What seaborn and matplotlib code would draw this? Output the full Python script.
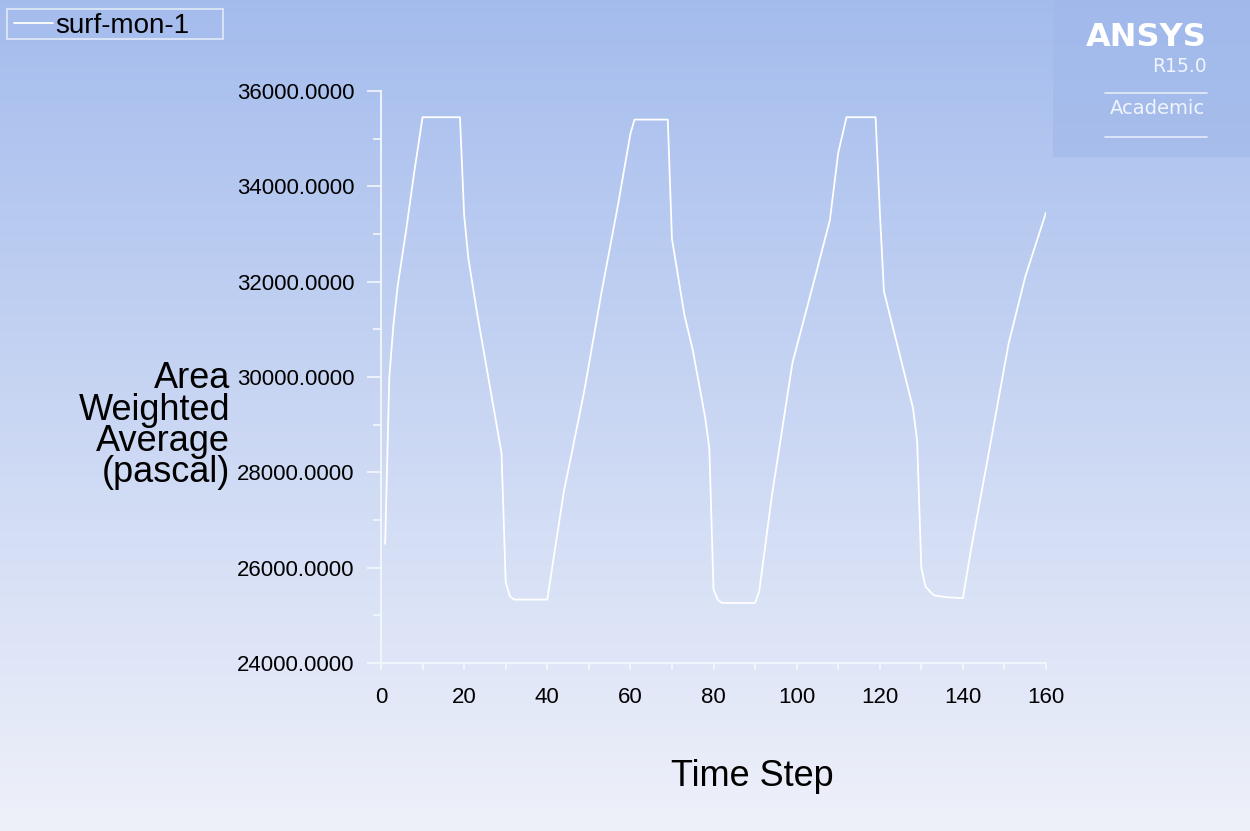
import matplotlib
matplotlib.use("Agg")
import numpy as np
import matplotlib.pyplot as plt
import matplotlib.ticker as mticker
from matplotlib.patches import Rectangle
from matplotlib.lines import Line2D
import seaborn as sns

sns.set_theme(style="white")
plt.rcParams["font.family"] = ["Liberation Sans", "DejaVu Sans"]

# surf-mon-1 monitor
time_step = [1, 2, 3, 4, 6, 8, 10, 19, 20, 21, 23, 26, 28, 29, 30, 31, 32, 40,
             44, 46, 49, 50, 53, 57, 59, 60, 61, 69, 70, 73, 75, 78, 79, 80, 81, 82, 90,
             91, 94, 99, 104, 108, 110, 112, 119, 120, 121, 125, 128, 129, 130, 131,
             133, 136, 140, 142, 146, 151, 155, 160]
pressure = [26500, 30000, 31100, 31900, 33050, 34300, 35450, 35450, 33400, 32500,
            31400, 29900, 28900, 28400, 25700, 25400, 25330, 25330,
            27600, 28450, 29750, 30250, 31750, 33600, 34600, 35100, 35400, 35400,
            32900, 31300, 30570, 29150, 28500, 25550, 25330, 25260, 25260,
            25500, 27480, 30300, 31950, 33290, 34700, 35450, 35450, 33500, 31800,
            30400, 29350, 28650, 26000, 25600, 25420, 25380, 25360, 26400, 28300,
            30700, 32100, 33450]

x_ticks = [0, 20, 40, 60, 80, 100, 120, 140, 160]
y_ticks = [24000, 26000, 28000, 30000, 32000, 34000, 36000]
series_name = "surf-mon-1"

W, H = 1250, 831
fig = plt.figure(figsize=(W / 100, H / 100), dpi=100)

# gradient background
bg = fig.add_axes([0, 0, 1, 1], zorder=-5)
grad = np.linspace(0, 1, 256)[:, None]
top = np.array([0.643, 0.737, 0.929])
bot = np.array([0.937, 0.945, 0.980])
img = top + (bot - top) * grad[:, :, None]
bg.imshow(img, aspect="auto", extent=[0, 1, 0, 1], origin="upper")
bg.set_axis_off()

# ANSYS logo box
fig.add_artist(Rectangle((1053 / W, 1 - 157 / H), 197 / W, 157 / H,
                         transform=fig.transFigure, facecolor="#9fb8ea",
                         alpha=0.55, edgecolor="none"))
fig.text(1207 / W, 1 - 37 / H, "ANSYS", ha="right", va="center", color="white",
         fontsize=23, fontweight="bold", family="DejaVu Sans")
fig.text(1207 / W, 1 - 66 / H, "R15.0", ha="right", va="center", color="#f0f4fc",
         fontsize=13.5, family="DejaVu Sans")
fig.text(1157 / W, 1 - 108 / H, "Academic", ha="center", va="center",
         color="#f0f4fc", fontsize=14, family="DejaVu Sans")
for yy in (93, 137):
    fig.add_artist(Line2D([1105 / W, 1207 / W], [1 - yy / H, 1 - yy / H],
                          transform=fig.transFigure, color="white", lw=1.2, alpha=0.7))

# main axes
left, right, topp, bottom = 381, 1046, 91, 663
ax = fig.add_axes([left / W, 1 - bottom / H, (right - left) / W, (bottom - topp) / H])
ax.set_facecolor("none")

sns.lineplot(x=time_step, y=pressure, ax=ax, color="white", lw=1.3,
             label=series_name, estimator=None, sort=False)

ax.set_xlim(0, 160)
ax.set_ylim(24000, 36000)
ax.set_xticks(x_ticks)
ax.set_yticks(y_ticks)
ax.xaxis.set_minor_locator(mticker.MultipleLocator(10))
ax.yaxis.set_minor_locator(mticker.MultipleLocator(1000))
ax.yaxis.set_major_formatter(mticker.FormatStrFormatter("%.4f"))

for s in ("top", "right"):
    ax.spines[s].set_visible(False)
for s in ("left", "bottom"):
    ax.spines[s].set_color("#f4f7fd")
    ax.spines[s].set_linewidth(1.3)

ax.tick_params(axis="y", which="major", length=10, width=1.2, color="#f4f7fd",
               labelsize=16, labelcolor="black", pad=9, left=True)
ax.tick_params(axis="y", which="minor", length=5.5, width=1.2, color="#f4f7fd", left=True)
ax.tick_params(axis="x", which="both", length=5, width=1.2, color="#f4f7fd",
               bottom=True)
ax.tick_params(axis="x", which="major", labelsize=16, labelcolor="black", pad=12)
ax.grid(False)

ax.set_ylabel("Area\nWeighted\nAverage\n(pascal)", rotation=0, ha="right",
              va="baseline", multialignment="right", fontsize=26, color="black",
              linespacing=0.87)
ax.yaxis.set_label_coords((230 - left) / (right - left), (bottom - 486) / (bottom - topp))
ax.set_xlabel("Time Step", fontsize=26, color="black", va="baseline")
ax.xaxis.set_label_coords((752 - left) / (right - left), (bottom - 786) / (bottom - topp))

# legend in the top-left corner
ax.legend(loc="upper left", bbox_to_anchor=(14 / W, 1 - 13 / H),
          bbox_transform=fig.transFigure, frameon=False, fontsize=20,
          handlelength=1.4, handletextpad=0.1, borderpad=0, borderaxespad=0,
          labelcolor="black")
fig.add_artist(Rectangle((7 / W, 1 - 39 / H), 216 / W, 30 / H, transform=fig.transFigure,
                         fill=False, edgecolor="#e2eaf8", lw=1.2))

fig.savefig("out.png", dpi=100)
